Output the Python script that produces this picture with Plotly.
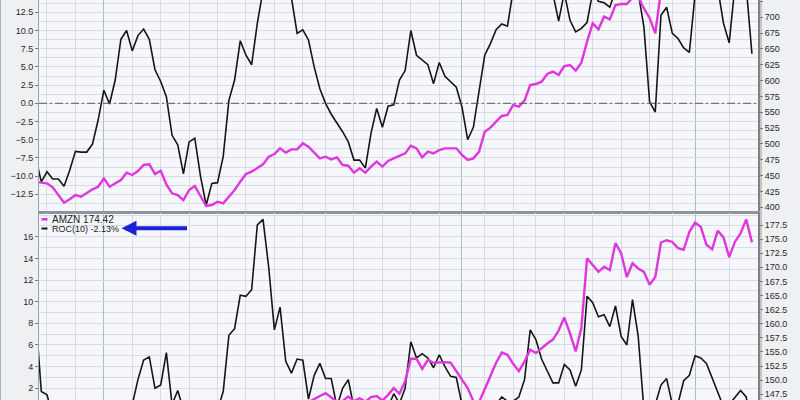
import plotly.graph_objects as go

# ---------------- data (index -1 .. 125, one value per trading day) ----------------
top_roc = [
    -7.4,
    -10.8, -9.4, -10.4, -10.4, -11.4, -9.2, -6.6, -6.7, -6.7, -5.6,
    -2.3, 1.8, -0.1, 3.2, 8.8, 10.0, 7.2, 9.3, 10.2, 8.8,
    4.6, 3.0, 0.9, -4.4, -5.7, -9.7, -5.3, -4.8, -10.0, -14.0,
    -11.0, -10.9, -7.3, 0.4, 3.2, 8.6, 6.6, 5.3, 11.0, 15.5,
    17.5, 19.0, 18.0, 16.5, 14.5, 9.6, 10.1, 8.7, 5.0, 2.0,
    0.0, -1.5, -2.7, -3.9, -5.3, -7.8, -7.8, -8.9, -4.1, -0.7,
    -3.3, -0.4, -0.2, 3.2, 4.5, 10.0, 6.6, 5.9, 5.3, 2.7,
    5.6, 3.7, 3.0, 2.2, -0.5, -5.0, -3.3, 1.6, 6.6, 8.2,
    10.1, 10.9, 10.6, 15.5, 17.0, 18.5, 19.0, 18.0, 17.5, 16.5,
    15.0, 11.3, 15.2, 11.4, 9.8, 10.3, 11.1, 15.3, 14.0, 13.8,
    13.2, 15.5, 16.5, 17.0, 16.5, 15.2, 10.5, 0.2, -1.2, 12.1,
    13.2, 9.6, 8.9, 7.6, 7.0, 15.0, 16.5, 18.0, 17.5, 15.8,
    11.0, 8.3, 16.0, 17.5, 16.0, 6.8,
]

top_price = [
    440.0,
    438.8, 437.9, 431.5, 419.4, 407.2, 412.6, 419.4, 416.8, 423.0, 428.4,
    432.5, 445.8, 432.5, 437.9, 443.1, 454.6, 451.0, 457.3, 466.8, 467.9,
    452.6, 457.8, 436.0, 422.1, 419.4, 411.5, 427.3, 433.6, 416.8, 402.1,
    403.6, 408.9, 406.3, 416.8, 427.3, 440.5, 452.6, 456.3, 461.5, 467.8,
    479.9, 484.1, 493.1, 486.3, 491.5, 491.5, 501.0, 495.7, 486.3, 477.3,
    479.9, 475.7, 478.9, 466.8, 465.7, 454.7, 461.5, 454.7, 464.2, 472.1,
    464.2, 473.1, 477.3, 481.0, 485.2, 497.3, 493.1, 478.9, 487.8, 485.2,
    490.5, 493.1, 493.1, 493.1, 482.6, 474.7, 477.3, 487.8, 519.4, 525.7,
    535.2, 544.2, 545.7, 561.5, 558.9, 568.4, 593.1, 594.7, 598.4, 610.5,
    614.1, 608.9, 623.1, 624.7, 615.7, 628.4, 661.5, 690.5, 681.0, 701.0,
    696.8, 719.4, 721.0, 721.0, 731.0, 733.0, 714.0, 699.0, 674.7, 742.0,
    748.0, 745.0, 752.0, 760.0, 758.0, 765.0, 770.0, 762.0, 768.0, 775.0,
    772.0, 765.0, 770.0, 778.0, 785.0, 776.0,
]

amzn_roc = [
    8.8,
    1.7, 1.4, -0.5, -1.5, -2.5, -3.0, -2.0, -2.5, -1.5, -1.0,
    -2.0, -1.5, -0.5, -1.0, 0.0, -0.5, 0.5, 2.8, 4.6, 4.9,
    2.0, 2.3, 5.3, 0.5, 1.8, 0.0, -1.0, -2.0, -3.0, -2.5,
    -1.5, 0.0, 1.7, 6.9, 7.5, 10.6, 10.5, 11.1, 17.1, 17.6,
    13.2, 7.4, 9.5, 4.5, 3.4, 4.7, 4.6, 1.0, 3.2, 4.3,
    2.9, 2.9, 0.3, 2.0, 2.8, 0.2, -1.0, -2.0, -1.5, -0.5,
    -1.0, 0.2, 1.5, 0.6, 2.0, 6.3, 4.8, 5.2, 4.8, 3.9,
    5.1, 4.0, 3.1, 3.0, 0.5, -1.0, -2.0, -1.5, -0.5, 0.0,
    0.5, 1.2, 0.8, 0.8, 1.2, 2.8, 7.4, 6.5, 4.7, 3.6,
    2.5, 2.5, 4.2, 3.7, 2.2, 3.7, 10.5, 9.9, 8.6, 8.8,
    7.7, 9.6, 6.8, 6.0, 10.2, 6.8, 0.0, -1.0, 0.5, 2.3,
    2.9, 0.5, 0.6, 2.7, 3.2, 5.0, 4.8, 4.3, 2.9, 1.5,
    0.3, 0.5, 1.1, 1.8, 1.2, -2.13,
]

amzn_price = [
    140.5,
    141.0, 140.2, 139.5, 138.8, 139.6, 141.2, 140.8, 141.5, 142.3, 141.9,
    142.8, 143.5, 142.6, 143.1, 144.0, 143.4, 144.6, 145.2, 144.1, 143.7,
    142.9, 143.8, 144.5, 142.0, 140.6, 139.8, 141.3, 142.1, 140.9, 139.5,
    140.2, 141.0, 142.5, 143.4, 144.2, 145.0, 145.6, 145.3, 145.9, 145.1,
    144.7, 145.4, 145.8, 145.2, 144.9, 145.6, 146.2, 146.1, 146.7, 147.2,
    147.7, 147.0, 146.2, 146.3, 147.1, 146.3, 146.8, 146.2, 147.0, 147.2,
    146.4, 147.4, 148.6, 147.6, 149.8, 153.8, 153.8, 152.0, 153.6, 153.1,
    153.2, 153.2, 153.1, 151.6, 150.3, 148.6, 146.3, 146.1, 148.4, 150.9,
    153.1, 154.9, 154.5, 152.9, 151.6, 153.3, 155.4, 154.8, 155.7, 156.5,
    157.2, 158.8, 161.1, 158.3, 155.1, 159.3, 171.6, 170.4, 169.2, 170.1,
    169.5, 174.3, 172.5, 168.3, 170.7, 169.8, 169.2, 166.9, 168.3, 174.4,
    174.8, 174.5, 173.4, 173.1, 176.3, 177.9, 177.2, 174.0, 173.2, 176.5,
    175.3, 171.8, 174.5, 176.0, 178.5, 174.42,
]

day_index = list(range(-1, len(top_roc) - 1))

# vertical (date) gridlines, by day index
week_lines = [1, 6, 16, 21, 26, 31, 36, 41, 46, 50, 55, 60, 65, 70, 78, 83, 87, 92, 97, 102, 107, 111, 121]
month_lines = [11, 74, 115]

legend_price = "AMZN 174.42"
legend_roc = "ROC(10) -2.13%"

# ---------------- styling ----------------
MAGENTA = "#e036e0"
BLACK = "#161616"
GRID = "#d9dce3"
GRID_DARK = "#b4b8c1"
TICKFONT = dict(family="Liberation Sans, Arial, sans-serif", size=9, color="#2a2a2a")
W, H = 800, 400
L, R = 39, 42
PW = W - L - R


def px_x(p):
    return (p - L) / PW


def px_y(p):
    return (H - p) / H


fig = go.Figure()
fig.add_trace(go.Scatter(x=day_index, y=top_roc, xaxis="x", yaxis="y", mode="lines",
                         line=dict(color=BLACK, width=1.6), hoverinfo="skip"))
fig.add_trace(go.Scatter(x=day_index, y=top_price, xaxis="x", yaxis="y2", mode="lines",
                         line=dict(color=MAGENTA, width=2.4), hoverinfo="skip"))
fig.add_trace(go.Scatter(x=day_index, y=amzn_roc, xaxis="x2", yaxis="y3", mode="lines",
                         line=dict(color=BLACK, width=1.6), hoverinfo="skip"))
fig.add_trace(go.Scatter(x=day_index, y=amzn_price, xaxis="x2", yaxis="y4", mode="lines",
                         line=dict(color=MAGENTA, width=2.4), hoverinfo="skip"))

xcommon = dict(
    range=[-0.405, 126.07], tickmode="array", tickvals=month_lines, showticklabels=False,
    ticks="", showgrid=True, gridcolor=GRID_DARK, gridwidth=1, zeroline=False,
    minor=dict(tickmode="array", tickvals=week_lines, showgrid=True, gridcolor=GRID, gridwidth=1, ticks=""),
    showline=True, linecolor="#8e939b", linewidth=1.5,
)

fig.update_layout(
    width=W, height=H,
    margin=dict(l=L, r=R, t=0, b=0, pad=0),
    paper_bgcolor="#eff0f3",
    plot_bgcolor="#f6f7fa",
    showlegend=False,
    xaxis=dict(domain=[0, 1], anchor="y", **xcommon),
    xaxis2=dict(domain=[0, 1], anchor="y3", matches="x", mirror=True, **xcommon),
    yaxis=dict(domain=[0.47, 1.0], anchor="x", side="left", range=[-14.93, 14.19],
               tickmode="linear", tick0=0, dtick=2.5, tickformat=".1f",
               ticks="outside", ticklen=3, tickcolor="#7a7a7a", tickfont=TICKFONT,
               showgrid=True, gridcolor=GRID, zeroline=False,
               minor=dict(tickmode="linear", tick0=0, dtick=1.25, showgrid=True, gridcolor=GRID, ticks=""),
               showline=True, linecolor="#9aa0aa", linewidth=1),
    yaxis2=dict(overlaying="y", anchor="x", side="right", range=[392.6, 727.3],
                tickmode="linear", tick0=0, dtick=25, ticks="outside", ticklen=3, tickcolor="#7a7a7a",
                tickfont=TICKFONT, showgrid=False, zeroline=False,
                showline=True, linecolor="#808080", linewidth=2),
    yaxis3=dict(domain=[0, 0.4675], anchor="x2", side="left", range=[0.92, 18.19],
                tickmode="array", tickvals=[2, 4, 6, 8, 10, 12, 14, 16],
                ticks="outside", ticklen=3, tickcolor="#7a7a7a", tickfont=TICKFONT,
                showgrid=True, gridcolor=GRID, zeroline=False,
                minor=dict(tickmode="linear", tick0=0, dtick=1, showgrid=True, gridcolor=GRID, ticks=""),
                showline=True, linecolor="#9aa0aa", linewidth=1),
    yaxis4=dict(overlaying="y3", anchor="x2", side="right", range=[146.49, 179.63],
                tickmode="linear", tick0=0, dtick=2.5, tickformat=".1f",
                ticks="outside", ticklen=3, tickcolor="#7a7a7a", tickfont=TICKFONT,
                showgrid=False, zeroline=False,
                showline=True, linecolor="#808080", linewidth=2),
)

# zero line (dash-dot) of the top ROC panel
fig.add_shape(type="line", xref="paper", yref="y", x0=0, x1=1, y0=0, y1=0,
              line=dict(color="#5a5a5a", width=1, dash="8px,3px,2px,3px"))
# image left border
fig.add_shape(type="line", xref="paper", yref="paper", x0=px_x(0.5), x1=px_x(0.5), y0=0, y1=1,
              line=dict(color="#a9b0bf", width=1))
# right shadow next to the price axis
fig.add_shape(type="rect", xref="paper", yref="paper", x0=px_x(759.5), x1=px_x(762), y0=0, y1=1,
              line=dict(width=0), fillcolor="rgba(120,120,120,0.35)", layer="below")

# legend-like labels in the lower panel
fig.add_shape(type="line", xref="paper", yref="paper", x0=px_x(41.5), x1=px_x(47.5),
              y0=px_y(219.3), y1=px_y(219.3), line=dict(color=MAGENTA, width=2.5))
fig.add_shape(type="line", xref="paper", yref="paper", x0=px_x(41.5), x1=px_x(47.5),
              y0=px_y(228.5), y1=px_y(228.5), line=dict(color=BLACK, width=2))
fig.add_annotation(xref="paper", yref="paper", x=px_x(50), y=px_y(219.3), xanchor="left", yanchor="middle",
                   text=legend_price, showarrow=False,
                   font=dict(family="Liberation Sans, Arial, sans-serif", size=10, color="#222"))
fig.add_annotation(xref="paper", yref="paper", x=px_x(49.5), y=px_y(228.5), xanchor="left", yanchor="middle",
                   text=legend_roc, showarrow=False,
                   font=dict(family="Liberation Sans, Arial, sans-serif", size=9, color="#222"))
# blue arrow pointing at the ROC label
fig.add_annotation(xref="paper", yref="paper", x=px_x(121.5), y=px_y(228.3), text="",
                   showarrow=True, ax=67, ay=0, arrowhead=2, arrowsize=0.75, arrowwidth=4,
                   arrowcolor="#1a22d6", standoff=0)

fig.write_html("out.html", config={"displayModeBar": False},
               post_script="document.body.style.margin='0';document.body.style.overflow='hidden';")
